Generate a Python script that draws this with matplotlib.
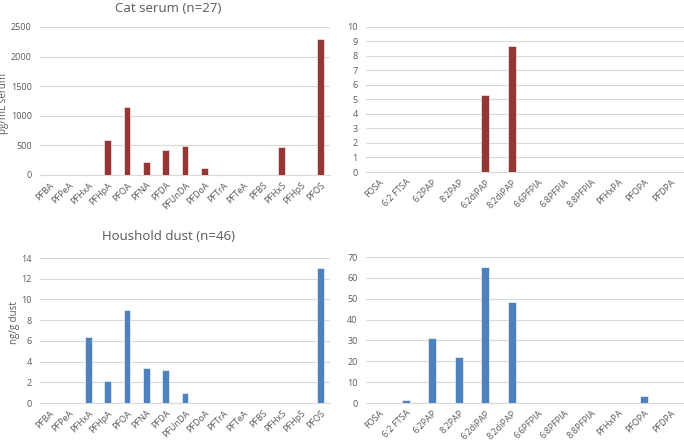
import matplotlib
matplotlib.use("Agg")
import matplotlib.pyplot as plt
import numpy as np

plt.rcParams['font.family'] = ['Open Sans', 'DejaVu Sans']

legacy = ['PFBA', 'PFPeA', 'PFHxA', 'PFHpA', 'PFOA', 'PFNA', 'PFDA', 'PFUnDA',
          'PFDoA', 'PFTrA', 'PFTeA', 'PFBS', 'PFHxS', 'PFHpS', 'PFOS']
emerging = ['FOSA', '6:2 FTSA', '6:2PAP', '8:2PAP', '6:2diPAP', '8:2diPAP',
            '6:6PFPIA', '6:8PFPIA', '8:8PFPIA', 'PFHxPA', 'PFOPA', 'PFDPA']

cat_legacy = [0, 0, 0, 585, 1150, 220, 430, 490, 115, 0, 0, 0, 465, 0, 2290]
cat_emerging = [0, 0, 0, 0, 5.3, 8.7, 0, 0, 0, 0, 0, 0]
dust_legacy = [0, 0, 6.4, 2.1, 9.0, 3.35, 3.2, 1.0, 0, 0, 0, 0, 0, 0, 13.0]
dust_emerging = [0, 1.5, 31, 22, 65, 48.5, 0, 0, 0, 0, 3.2, 0]

RED = '#943634'
BLUE = '#4f81bd'
GRID = '#d9d9d9'
TXT = '#595959'

fig = plt.figure(figsize=(6.84, 4.40), dpi=100)
W, H = 684.0, 440.0


def make_ax(x0, x1, y_top, y_bot):
    return fig.add_axes([x0 / W, 1 - y_bot / H, (x1 - x0) / W, (y_bot - y_top) / H])


def style(ax, labels, vals, color, width, ymax, step):
    x = np.arange(len(labels))
    ax.bar(x, vals, width=width, color=color, edgecolor='white', linewidth=0.4, zorder=3)
    ax.set_xlim(-0.5, len(labels) - 0.5)
    ax.set_ylim(0, ymax)
    ax.set_yticks(np.arange(0, ymax + step / 2, step))
    ax.yaxis.grid(True, color=GRID, linewidth=0.8, zorder=0)
    ax.set_xticks(x)
    ax.set_xticklabels(labels, rotation=45, ha='right', rotation_mode='anchor',
                       fontsize=6.5, color=TXT)
    ax.tick_params(axis='y', labelsize=6.5, colors=TXT, length=0, pad=6)
    ax.tick_params(axis='x', length=0, pad=4)
    for s in ['top', 'right', 'left']:
        ax.spines[s].set_visible(False)
    ax.spines['bottom'].set_color(GRID)
    ax.spines['bottom'].set_linewidth(0.8)


ax1 = make_ax(40, 330, 27, 175)
style(ax1, legacy, cat_legacy, RED, 0.34, 2500, 500)

ax2 = make_ax(366, 684, 27, 172)
style(ax2, emerging, cat_emerging, RED, 0.29, 10, 1)

ax3 = make_ax(40, 330, 258, 403)
style(ax3, legacy, dust_legacy, BLUE, 0.34, 14, 2)

ax4 = make_ax(366, 684, 257, 403)
style(ax4, emerging, dust_emerging, BLUE, 0.29, 70, 10)

# titles and y labels placed in figure pixels
fig.text(168 / W, 1 - 8 / H, 'Cat serum (n=27)', ha='center', va='center',
         fontsize=9.5, color=TXT)
fig.text(168 / W, 1 - 236 / H, 'Houshold dust (n=46)', ha='center', va='center',
         fontsize=9.5, color=TXT)
fig.text(4 / W, 1 - 103 / H, 'pg/mL serum', ha='center', va='center',
         rotation=90, fontsize=7, color=TXT)
fig.text(14 / W, 1 - 323 / H, 'ng/g dust', ha='center', va='center',
         rotation=90, fontsize=7, color=TXT)

fig.savefig('out.png', dpi=100)
